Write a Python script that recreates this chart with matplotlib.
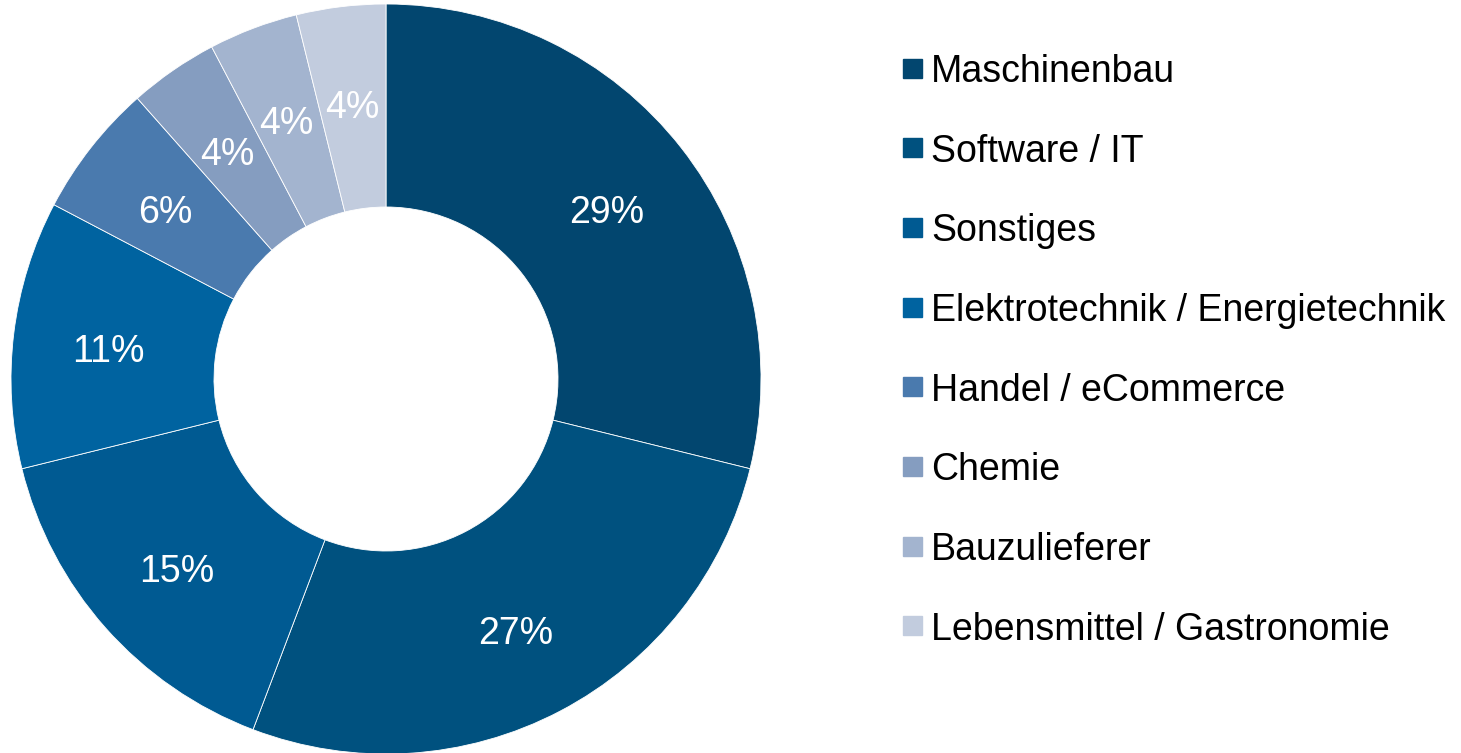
import matplotlib
matplotlib.use("Agg")
import matplotlib.pyplot as plt
from matplotlib.patches import Rectangle
import numpy as np

plt.rcParams['font.family'] = ['Liberation Sans', 'DejaVu Sans']

branchen = ['Maschinenbau', 'Software / IT', 'Sonstiges',
            'Elektrotechnik / Energietechnik', 'Handel / eCommerce',
            'Chemie', 'Bauzulieferer', 'Lebensmittel / Gastronomie']
# Anzahl Nennungen (n = 52) -> Segmentgroesse
anzahl = [15, 14, 8, 6, 3, 2, 2, 2]
# angezeigte (gerundete) Prozentwerte
prozent = [29, 27, 15, 11, 6, 4, 4, 4]
farben = ['#02466F', '#00517F', '#005A92', '#0063A0',
          '#4A7AAE', '#859DC0', '#A3B4CF', '#C2CCDE']

W, H = 1461, 753
fig = plt.figure(figsize=(W / 100, H / 100), dpi=100)

# donut: center (386, 379) px, radius 375 px
cx, cy, r = 386, 379, 375
r_in = 172 / 375
ax = fig.add_axes([(cx - r) / W, (H - cy - r) / H, 2 * r / W, 2 * r / H])
wedges, _ = ax.pie(anzahl, colors=farben, startangle=90, counterclock=False,
                   radius=1.0, wedgeprops=dict(width=1 - r_in,
                                               edgecolor='white', linewidth=0.6))
for w, p in zip(wedges, prozent):
    ang = np.deg2rad((w.theta1 + w.theta2) / 2)
    rr = 0.747
    ax.text(rr * np.cos(ang), rr * np.sin(ang) - 7 / r, f'{p}%',
            color='white', fontsize=27, ha='center', va='center')
ax.set_xlim(-1, 1)
ax.set_ylim(-1, 1)
ax.set_aspect('equal')
ax.axis('off')

# legend
y0, dy = 68, 79.7
for i, (lab, col) in enumerate(zip(branchen, farben)):
    y = y0 + i * dy
    fig.add_artist(Rectangle((903 / W, 1 - (y + 9.5) / H), 19 / W, 19 / H,
                             transform=fig.transFigure, color=col))
    fig.text(931 / W, 1 - y / H, lab, fontsize=27, va='center_baseline',
             ha='left', color='black')

fig.savefig('out.png', dpi=100)
